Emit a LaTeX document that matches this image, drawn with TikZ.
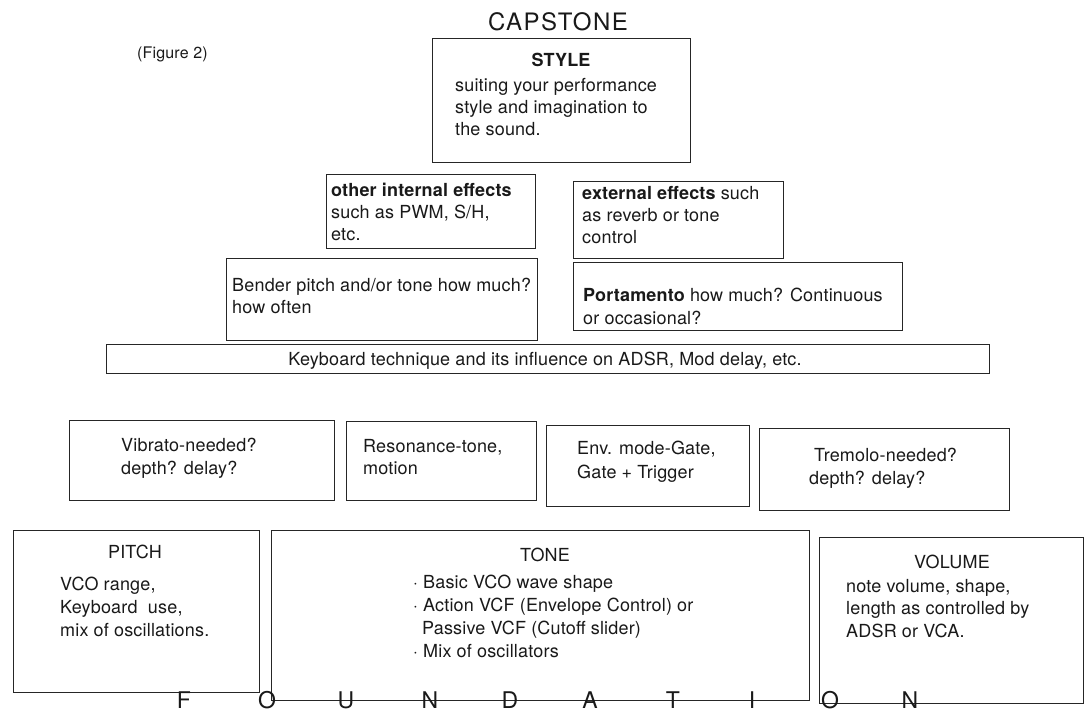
\documentclass[tikz,border=0pt]{standalone}
\usepackage{fontspec}
\setmainfont{TeX Gyre Heros}[LetterSpace=1]
\newfontfamily\capfont{TeX Gyre Heros}[LetterSpace=6]
\begin{document}
\begin{tikzpicture}[x=1pt,y=-1pt,
  bx/.style={draw=black!85, line width=1pt, inner sep=0pt, rectangle},
  txt/.style={anchor=base west, inner sep=0pt, font=\fontsize{18}{22}\selectfont, text=black!90},
  ctr/.style={anchor=base, inner sep=0pt, font=\fontsize{18}{22}\selectfont, text=black!90},
  big/.style={anchor=base, inner sep=0pt, font=\capfont\fontsize{23}{26}\selectfont, text=black!90}]
\useasboundingbox (0,0) rectangle (1084,713);
\newcommand\boxat[5]{\node[bx,minimum width={(#4-#2)*1pt},minimum height={(#5-#3)*1pt}] (#1) at ({(#2+#4)/2},{(#3+#5)/2}) {};}
% boxes
\boxat{style}{432}{38}{690}{162}
\boxat{internal}{326}{174}{535}{248}
\boxat{external}{573}{181}{783}{258}
\boxat{bender}{226}{258}{537}{340}
\boxat{porta}{573}{262}{902}{330}
\boxat{keyb}{106}{344}{989}{373}
\boxat{vib}{69}{420}{334}{500}
\boxat{reso}{346}{421}{536}{500}
\boxat{env}{546}{425}{749}{506}
\boxat{trem}{759}{428}{1009}{510}
\boxat{pitch}{13}{530}{259}{692}
\boxat{tone}{271}{530}{809}{700}
\boxat{vol}{819}{537}{1083}{703}
% titles
\node[txt,font=\fontsize{16}{20}\selectfont] (fig) at (137,58) {(Figure 2)};
\node[big,font=\capfont\fontsize{24}{26}\selectfont] (cap) at (558,30) {CAPSTONE};
\node[ctr] (styleT) at (561,66) {\bfseries STYLE};
\node[txt] (style1) at (455,91) {suiting your performance};
\node[txt] (style2) at (455,113) {style and imagination to};
\node[txt] (style3) at (455,135) {the sound.};
\node[txt] (int1) at (331,196) {\bfseries other internal effects};
\node[txt] (int2) at (331,218) {such as PWM, S/H,};
\node[txt] (int3) at (331,240) {etc.};
\node[txt] (ext1) at (582,199) {\bfseries external effects\mdseries{} such};
\node[txt] (ext2) at (582,221) {as reverb or tone};
\node[txt] (ext3) at (582,243) {control};
\node[txt] (ben1) at (232,291) {Bender pitch and/or tone how much?};
\node[txt] (ben2) at (232,313) {how often};
\node[txt] (por1) at (583,301) {\bfseries Portamento\mdseries{} how much? Continuous};
\node[txt] (por2) at (583,324) {or occasional?};
\node[ctr] (keyT) at (545,365) {Keyboard technique and its influence on ADSR, Mod delay, etc.};
\node[txt] (vib1) at (121,451) {Vibrato-needed?};
\node[txt] (vib2) at (121,474) {depth? delay?};
\node[txt] (res1) at (363,452) {Resonance-tone,};
\node[txt] (res2) at (363,474) {motion};
\node[txt] (env1) at (577,454) {Env. mode-Gate,};
\node[txt] (env2) at (577,478) {Gate + Trigger};
\node[txt] (tre1) at (814,461) {Tremolo-needed?};
\node[txt] (tre2) at (809,484) {depth? delay?};
\node[ctr] (pitT) at (135,558) {PITCH};
\node[txt] (pit1) at (60,590) {VCO range,};
\node[txt] (pit2) at (60,613) {Keyboard\ \ use,};
\node[txt] (pit3) at (60,636) {mix of oscillations.};
\node[ctr] (tonT) at (545,561) {TONE};
\node[txt] (ton1) at (413,588) {$\cdot$ Basic VCO wave shape};
\node[txt] (ton2) at (413,611) {$\cdot$ Action VCF (Envelope Control) or};
\node[txt] (ton3) at (422,634) {Passive VCF (Cutoff slider)};
\node[txt] (ton4) at (413,657) {$\cdot$ Mix of oscillators};
\node[ctr] (volT) at (952,568) {VOLUME};
\node[txt] (vol1) at (846,592) {note volume, shape,};
\node[txt] (vol2) at (846,614) {length as controlled by};
\node[txt] (vol3) at (846,637) {ADSR or VCA.};
% foundation
\foreach \l/\x [count=\i] in {F/184,O/267,U/346,N/430,D/510,A/590,T/673,I/752,O/830,N/910}
  \node[big] (f\i) at (\x,708) {\l};
\end{tikzpicture}
\end{document}
